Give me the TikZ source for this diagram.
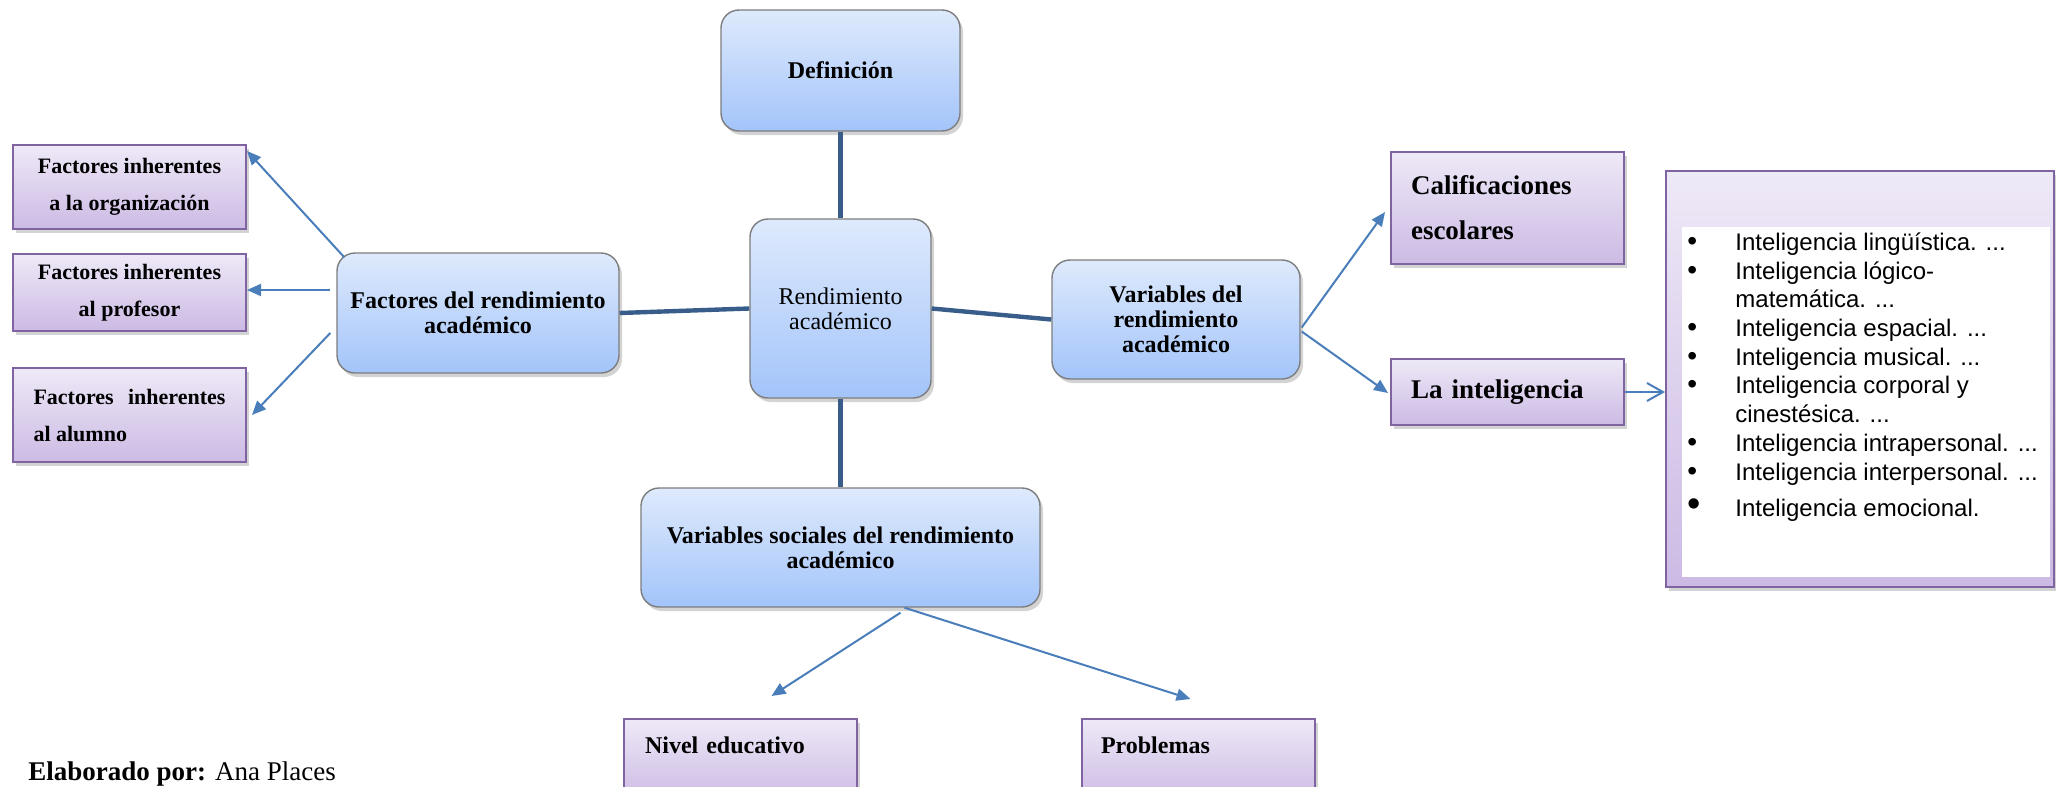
\documentclass[tikz,border=0pt]{standalone}
\usepackage{fontspec}
\setmainfont{Liberation Serif}
\newfontfamily\listfont{Liberation Sans}
\usetikzlibrary{shadows,arrows.meta}

\definecolor{azulclaro}{RGB}{222,234,252}
\definecolor{azulmedio}{RGB}{163,196,250}
\definecolor{lilaclaro}{RGB}{238,233,247}
\definecolor{lilamedio}{RGB}{204,186,228}
\definecolor{lilaborde}{RGB}{128,100,162}
\definecolor{lineaosc}{RGB}{56,93,138}
\definecolor{flechaazul}{RGB}{74,126,187}
\definecolor{bordegris}{RGB}{125,125,125}

\newcommand{\vineta}{{\fontsize{14}{14.35}\selectfont •}}

\begin{document}
\begin{tikzpicture}[x=0.5pt,y=-0.5pt,
    cajaazul/.style={draw=bordegris, line width=0.7pt, rounded corners=9pt, top color=azulclaro, bottom color=azulmedio,
        drop shadow={shadow xshift=1.5pt, shadow yshift=-2pt, opacity=0.35}, align=center, inner sep=0pt,
        font=\fontsize{12}{12.5}\selectfont\bfseries},
    cajalila/.style={draw=lilaborde, line width=1pt, top color=lilaclaro, bottom color=lilamedio,
        drop shadow={shadow xshift=1.5pt, shadow yshift=-2pt, opacity=0.35}, inner sep=0pt, minimum width=116.5pt},
    textolila/.style={font=\fontsize{11}{18.5}\selectfont\bfseries},
    textogrande/.style={font=\fontsize{13.5}{22.5}\selectfont\bfseries, align=left, text width=96.5pt, inner xsep=10pt},
    tronco/.style={draw=lineaosc, line width=2.2pt},
    flecha/.style={draw=flechaazul, line width=1pt, -{Triangle[length=7pt,width=6pt]}},
    flechaabierta/.style={draw=flechaazul, line width=1pt, -{Straight Barb[length=8pt,width=9pt]}},
]
\useasboundingbox (0,0) rectangle (2056,787);

% Centre and the four blue boxes round it
\node[cajaazul, minimum width=90.5pt, minimum height=89.5pt, font=\fontsize{12}{12.5}\selectfont] (rend) at (840.5,308.5) {Rendimiento\\académico};
\node[cajaazul, minimum width=119.5pt, minimum height=60.5pt] (def) at (840.5,70.5) {Definición};
\node[cajaazul, minimum width=141pt, minimum height=60pt] (fac) at (478,313) {Factores del rendimiento\\académico};
\node[cajaazul, minimum width=124pt, minimum height=59.5pt] (var) at (1176,319.5) {Variables del\\rendimiento\\académico};
\node[cajaazul, minimum width=199.5pt, minimum height=59.5pt] (soc) at (840.5,547.5) {Variables sociales del rendimiento\\académico};

% Factores (left)
\node[cajalila, textolila, minimum height=42pt, align=center] (org) at (129.5,187) {Factores inherentes\\a la organización};
\node[cajalila, textolila, minimum height=38.5pt, align=center] (prof) at (129.5,292.5) {Factores inherentes\\al profesor};
\node[cajalila, textolila, minimum height=47pt, align=left] (alum) at (129.5,415) {\makebox[96pt][s]{Factores\hfill inherentes}\\al alumno};

% Variables (right)
\node[cajalila, textogrande, minimum height=56pt] (cal) at (1507.5,208) {Calificaciones\\escolares};
\node[cajalila, textogrande, minimum height=33pt] (int) at (1507.5,392) {La inteligencia};

% list of the inteligencias
\node[cajalila, minimum width=194pt, minimum height=208pt] (marco) at (1860,379) {};
\node[fill=white, inner sep=0pt, minimum width=184pt, minimum height=175pt, anchor=north west] (blanco) at (1682,227) {};
\node[anchor=north west, inner sep=0pt, align=left, font=\listfont\fontsize{12}{14.35}\selectfont] (lista) at (1687,230) {%
    \begin{tabular}{@{}p{24pt}@{}l@{}}
    \vineta & Inteligencia lingüística. ...\\
    \vineta & Inteligencia lógico-\\
      & matemática. ...\\
    \vineta & Inteligencia espacial. ...\\
    \vineta & Inteligencia musical. ...\\
    \vineta & Inteligencia corporal y\\
      & cinestésica. ...\\
    \vineta & Inteligencia intrapersonal. ...\\
    \vineta & Inteligencia interpersonal. ...\\[4pt]
    {\fontsize{19}{14.35}\selectfont •} & Inteligencia emocional.
    \end{tabular}};

% Variables sociales (bottom)
\node[cajalila, anchor=north west, align=left, text width=95.5pt, inner xsep=10.5pt, inner ysep=8pt,
    text height=9pt, text depth=16pt, font=\fontsize{12}{14}\selectfont\bfseries] (nivel) at (623,718) {Nivel educativo};
\node[cajalila, anchor=north west, align=left, text width=97.5pt, inner xsep=9.5pt, inner ysep=8pt,
    text height=9pt, text depth=16pt, font=\fontsize{12}{14}\selectfont\bfseries] (prob) at (1081,718) {Problemas};

\node[anchor=base west, inner sep=0pt, font=\fontsize{13.5}{16}\selectfont] (autor) at (28,780) {\textbf{Elaborado por:} Ana Places};

% thick joins
\draw[tronco] (fac.east) -- (rend.west);
\draw[tronco] (rend.east) -- (var.west);
\draw[tronco] (def.south) -- (rend.north);
\draw[tronco] (rend.south) -- (soc.north);

% arrows
\draw[flecha] ([shift={(8,5)}]fac.north west) -- ([shift={(0,7)}]org.north east);
\coordinate (f2) at ([shift={(-6,-23)}]fac.west);
\draw[flecha] (f2) -- (f2 -| prof.east);
\draw[flecha] ([shift={(-6,20)}]fac.west) -- ([shift={(5,0)}]alum.east);
\draw[flecha] ([shift={(1,8)}]var.east) -- ([shift={(-5,4)}]cal.west);
\draw[flecha] ([shift={(1,12)}]var.east) -- ([shift={(-2,1)}]int.west);
\draw[flechaabierta] (int.east) -- (int.east -| marco.west);
\draw[flecha] ([shift={(60,5)}]soc.south) -- ([shift={(31,-22)}]nivel.north);
\draw[flecha] ([shift={(64,0)}]soc.south) -- ([shift={(-8,-19)}]prob.north);

\end{tikzpicture}
\end{document}
